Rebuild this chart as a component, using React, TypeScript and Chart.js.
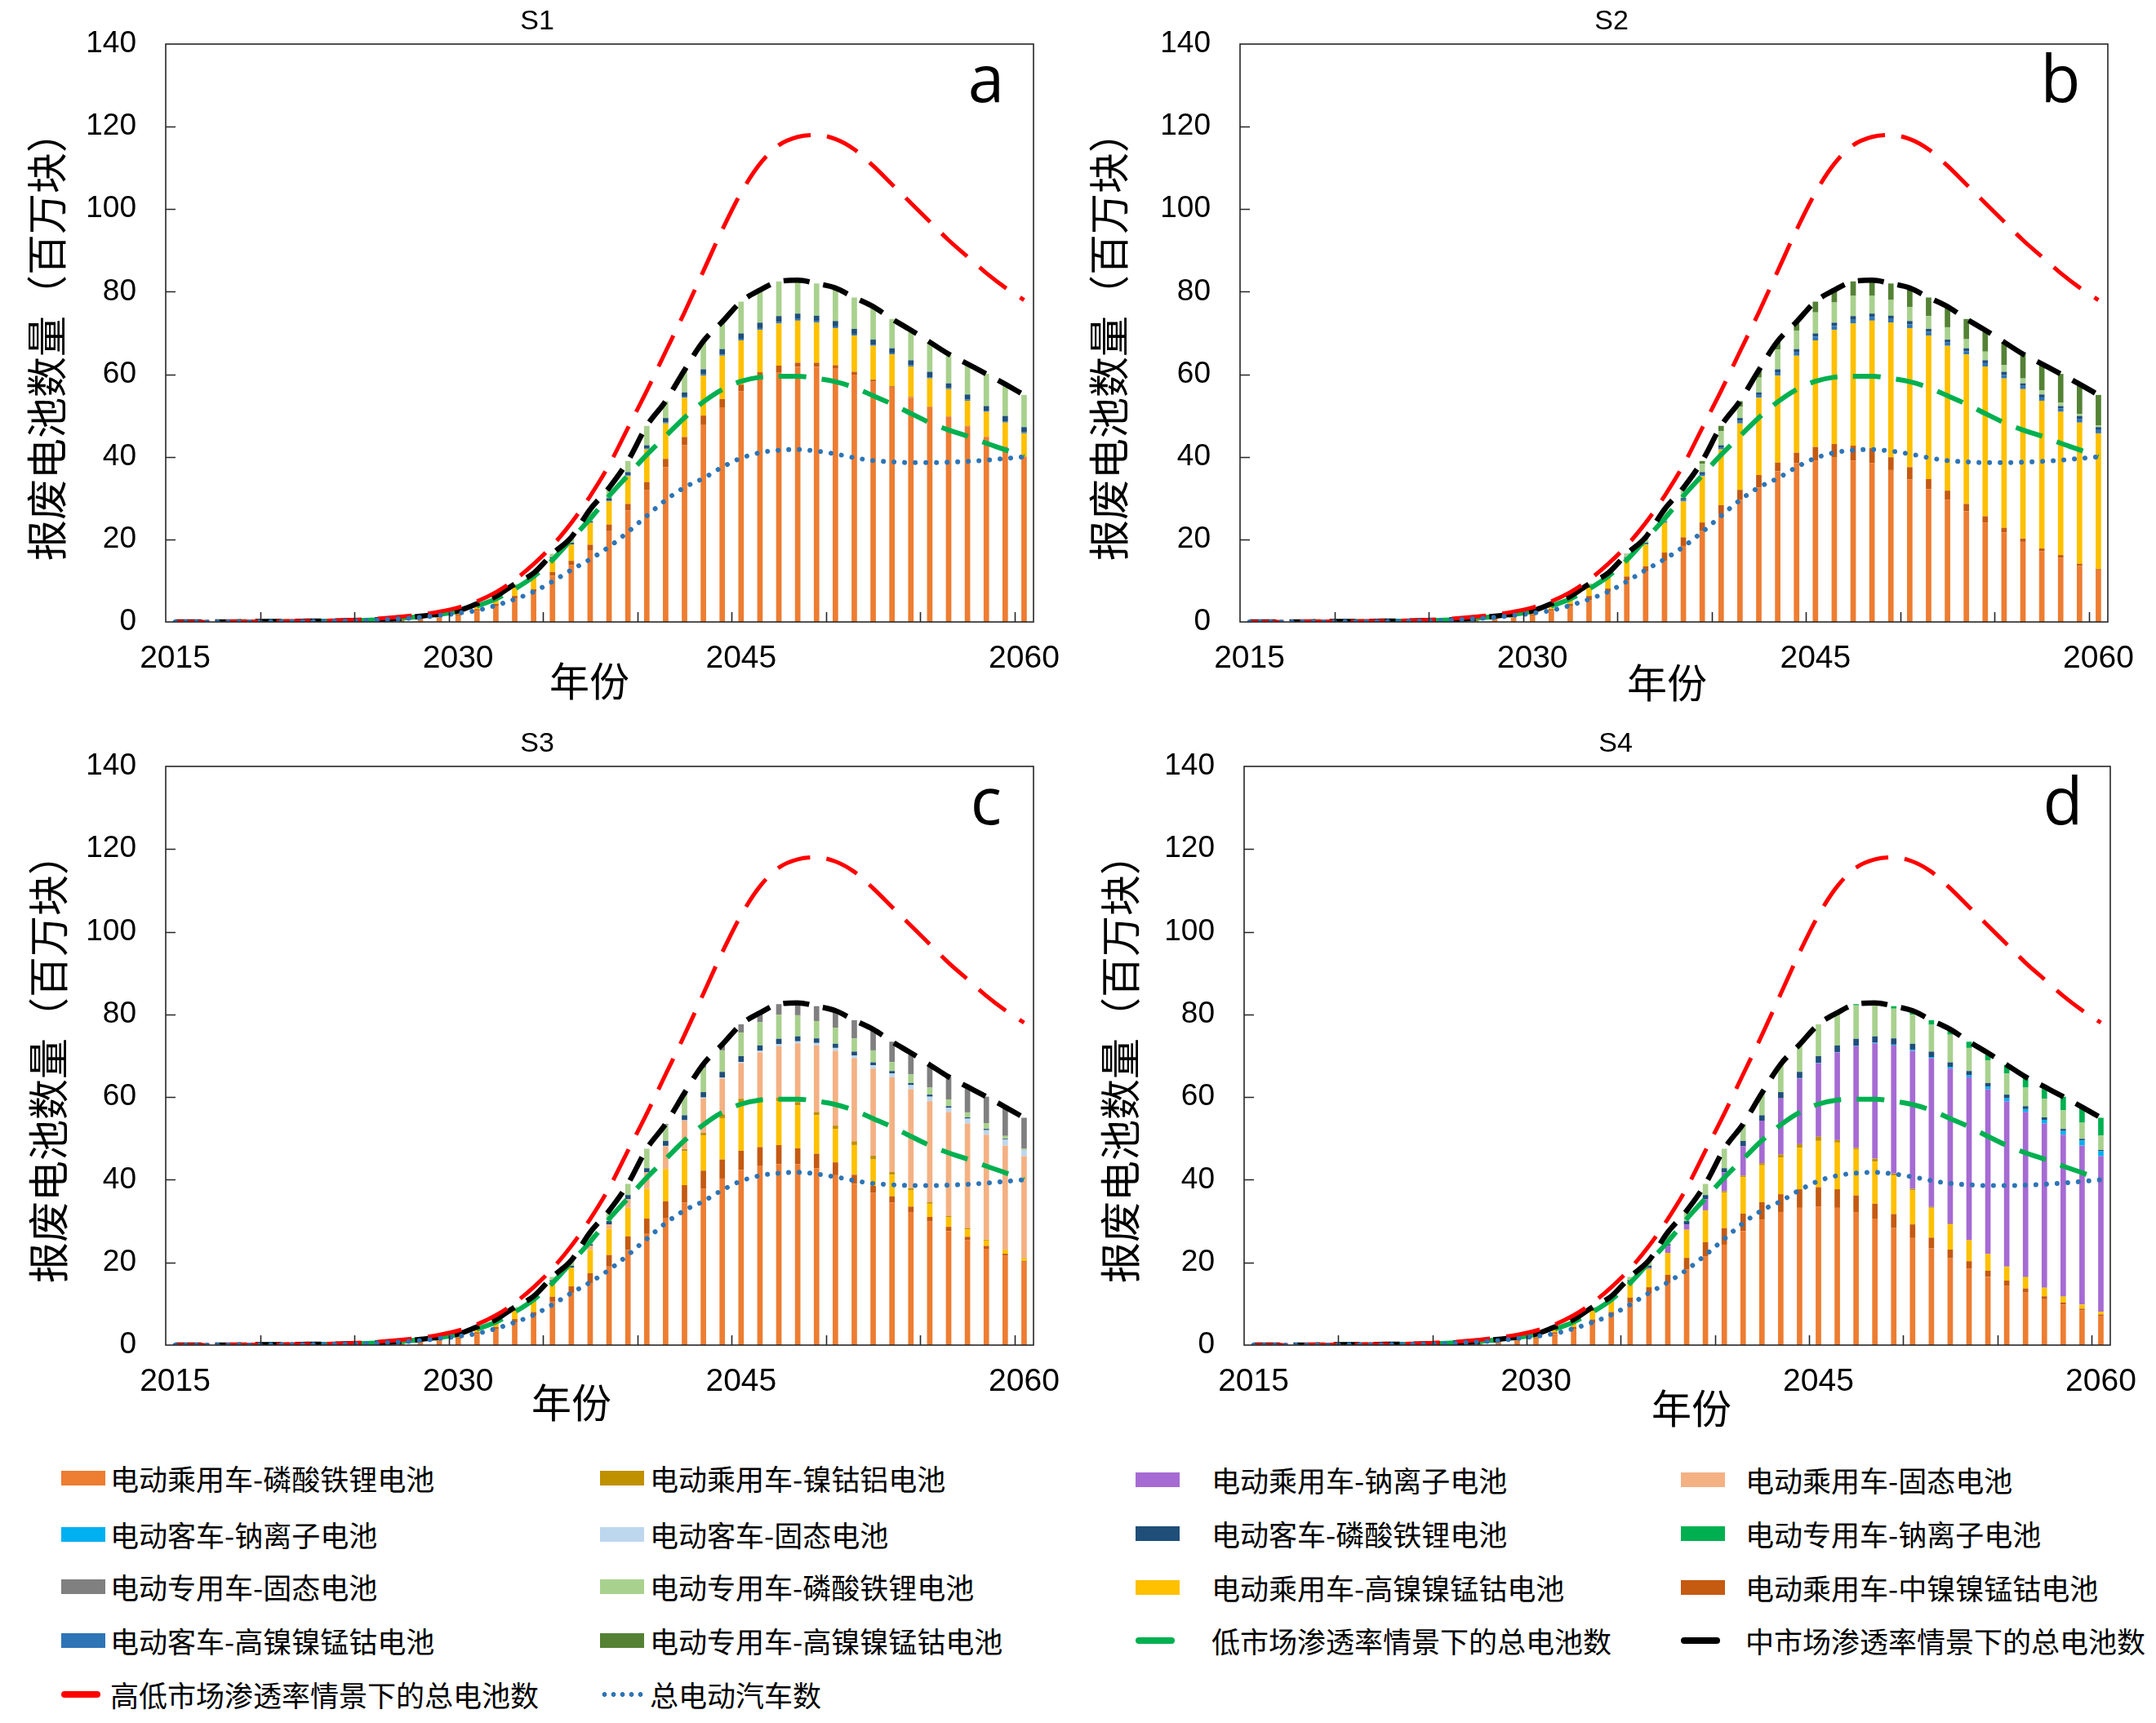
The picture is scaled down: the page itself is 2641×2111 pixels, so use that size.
import { useEffect, useRef } from "react"
import { Chart, registerables } from "chart.js"

// Register Chart.js components
Chart.register(...registerables)

const years = [
  2015, 2016, 2017, 2018, 2019, 2020, 2021, 2022, 2023, 2024, 2025, 2026, 2027, 2028, 2029, 2030,
  2031, 2032, 2033, 2034, 2035, 2036, 2037, 2038, 2039, 2040, 2041, 2042, 2043, 2044, 2045, 2046,
  2047, 2048, 2049, 2050, 2051, 2052, 2053, 2054, 2055, 2056, 2057, 2058, 2059, 2060,
]
const labelledYears = [2015, 2030, 2045, 2060]
const yMax = 140
const yStep = 20

// scenario totals (same in all four panels), 2015..2032 then 2033..2060
const highTotal = [
  0, 0, 0, 0.1, 0.1, 0.1, 0.2, 0.2, 0.3, 0.4, 0.6, 0.9, 1.3, 1.8, 2.5, 3.5, 5.0, 7.2,
  10.2, 14.0, 18.5, 24.0, 30.5, 38.0, 47.0, 56.0, 65.5, 75.0, 85.0, 95.0, 104.0, 111.0, 115.5, 117.5, 118.0, 117.0, 114.5, 110.5, 106.0, 101.5, 97.0, 92.5, 88.5, 84.5, 81.0, 78.0,
]
const midTotal = [
  0, 0, 0, 0, 0.1, 0.1, 0.1, 0.2, 0.2, 0.3, 0.4, 0.6, 0.9, 1.4, 1.9, 2.7, 4.4, 6.2,
  9.2, 11.8, 16.5, 20.5, 27.3, 32.5, 39.0, 47.5, 53.5, 61.0, 68.0, 72.7, 77.6, 80.4, 82.5, 82.8, 82.0, 80.9, 78.6, 76.4, 73.4, 70.7, 67.8, 64.9, 62.5, 60.1, 57.6, 55.0,
]
const lowTotal = [
  0, 0, 0, 0, 0.1, 0.1, 0.1, 0.2, 0.2, 0.3, 0.4, 0.6, 0.9, 1.3, 1.8, 2.6, 3.9, 5.6,
  8.0, 11.0, 15.0, 20.0, 25.0, 30.5, 35.5, 40.5, 45.0, 49.5, 53.3, 56.3, 58.3, 59.3, 59.5, 59.5, 59.0, 58.2, 56.8, 54.8, 52.8, 50.5, 48.3, 46.5, 45.0, 43.3, 41.7, 40.0,
]
const evTotal = [
  0, 0, 0, 0, 0, 0.1, 0.1, 0.1, 0.2, 0.2, 0.3, 0.5, 0.8, 1.1, 1.6, 2.1, 2.8, 4.0,
  5.5, 7.3, 9.8, 12.6, 15.2, 18.2, 21.8, 25.7, 29.5, 32.6, 34.8, 37.5, 39.7, 41.0, 41.6, 41.8, 41.4, 40.7, 39.8, 39.1, 38.8, 38.6, 38.6, 38.7, 38.9, 39.2, 39.6, 40.0,
]

// S1
const s1CarLfp = [
  0, 0, 0, 0, 0.1, 0.1, 0.1, 0.1, 0.1, 0.2, 0.2, 0.3, 0.5, 0.8, 1.1, 1.6, 2.7, 3.8,
  5.6, 7.2, 11.2, 13.8, 17.4, 22.0, 27.0, 31.9, 37.5, 42.8, 47.7, 52.0, 55.9, 58.9, 60.5, 61.8, 61.8, 61.5, 59.9, 58.2, 56.8, 54.3, 52.0, 49.7, 47.4, 44.7, 42.4, 40.1,
]
const s1CarMidNi = [
  0, 0, 0, 0, 0, 0, 0, 0, 0, 0, 0, 0.1, 0.1, 0.1, 0.2, 0.3, 0.4, 0.6,
  0.7, 0.7, 0.9, 1.0, 1.3, 1.6, 1.6, 2.0, 2.0, 2.0, 2.3, 2.0, 1.6, 1.6, 1.6, 1.0, 1.0, 0.7, 0.7, 0.5, 0.3, 0.2, 0.1, 0.1, 0.1, 0.1, 0.1, 0,
]
const s1CarHighNi = [
  0, 0, 0, 0, 0, 0, 0, 0.1, 0.1, 0.1, 0.2, 0.2, 0.3, 0.4, 0.5, 0.6, 1.0, 1.4,
  2.0, 2.8, 3.2, 3.9, 5.3, 5.6, 6.7, 7.9, 8.6, 9.5, 9.7, 10.5, 10.7, 10.3, 10.2, 10.2, 9.7, 9.0, 8.8, 8.2, 7.7, 7.4, 6.9, 6.6, 6.1, 6.1, 5.8, 5.6,
]
const s1BusHighNi = [
  0, 0, 0, 0, 0, 0, 0, 0, 0, 0, 0, 0, 0, 0, 0, 0, 0, 0,
  0, 0.1, 0.1, 0.1, 0.1, 0.2, 0.2, 0.2, 0.3, 0.3, 0.3, 0.3, 0.4, 0.4, 0.4, 0.4, 0.4, 0.4, 0.4, 0.3, 0.3, 0.3, 0.3, 0.3, 0.3, 0.3, 0.3, 0.3,
]
const s1BusLfp = [
  0, 0, 0, 0, 0, 0, 0, 0, 0, 0, 0, 0, 0, 0, 0, 0, 0.1, 0.1,
  0.2, 0.3, 0.3, 0.4, 0.3, 0.6, 0.8, 0.8, 1.0, 1.0, 1.2, 1.3, 1.3, 1.3, 1.4, 1.3, 1.3, 1.3, 1.2, 1.2, 1.2, 1.2, 1.3, 1.1, 1.2, 1.1, 1.3, 1.2,
]
const s1SpecLfp = [
  0, 0, 0, 0, 0, 0, 0, 0, 0, 0, 0, 0, 0, 0.1, 0.1, 0.2, 0.2, 0.3,
  0.7, 0.7, 0.8, 1.3, 2.9, 2.5, 2.7, 4.7, 4.1, 5.4, 6.8, 6.6, 7.7, 7.9, 8.4, 8.1, 7.8, 8.0, 7.6, 8.0, 7.1, 7.3, 7.2, 7.1, 7.4, 7.8, 7.7, 7.8,
]

// S2
const s2CarLfp = [
  0, 0, 0, 0, 0.1, 0.1, 0.1, 0.1, 0.1, 0.2, 0.2, 0.3, 0.5, 0.8, 1.1, 1.6, 2.7, 3.8,
  5.3, 7.2, 10.0, 12.2, 14.8, 18.4, 22.0, 26.0, 29.6, 32.6, 36.5, 38.5, 39.1, 39.8, 39.1, 38.5, 36.8, 34.5, 32.2, 29.6, 26.8, 24.1, 21.7, 19.4, 17.1, 15.5, 13.6, 12.5,
]
const s2CarMidNi = [
  0, 0, 0, 0, 0, 0, 0, 0, 0, 0, 0, 0.1, 0.1, 0.1, 0.2, 0.3, 0.4, 0.6,
  1.0, 0.9, 1.0, 1.3, 2.0, 2.1, 2.1, 2.3, 2.4, 3.0, 2.1, 2.5, 3.3, 3.3, 3.6, 3.6, 3.1, 3.0, 2.4, 2.2, 1.8, 1.5, 1.1, 0.8, 0.7, 0.7, 0.5, 0.3,
]
const s2CarHighNi = [
  0, 0, 0, 0, 0, 0, 0, 0.1, 0.1, 0.1, 0.2, 0.2, 0.3, 0.4, 0.5, 0.6, 1.0, 1.4,
  2.0, 2.6, 4.3, 5.2, 7.2, 8.7, 11.2, 13.5, 16.1, 18.7, 21.1, 23.5, 25.8, 27.7, 29.6, 30.9, 32.6, 33.7, 34.8, 35.1, 36.2, 36.3, 36.2, 36.2, 35.8, 34.7, 34.2, 32.9,
]
const s2BusHighNi = [
  0, 0, 0, 0, 0, 0, 0, 0, 0, 0, 0, 0, 0, 0, 0, 0, 0, 0,
  0, 0.2, 0.2, 0.2, 0.2, 0.4, 0.5, 0.5, 0.7, 0.7, 0.8, 0.8, 0.9, 0.9, 0.9, 0.9, 0.9, 0.9, 0.9, 0.8, 0.8, 0.8, 0.8, 0.8, 0.8, 0.8, 0.8, 0.8,
]
const s2BusLfp = [
  0, 0, 0, 0, 0, 0, 0, 0, 0, 0, 0, 0, 0, 0, 0, 0, 0.1, 0.1,
  0.2, 0.2, 0.2, 0.3, 0.2, 0.4, 0.5, 0.5, 0.6, 0.6, 0.7, 0.8, 0.8, 0.8, 0.9, 0.8, 0.8, 0.8, 0.7, 0.7, 0.7, 0.7, 0.8, 0.6, 0.7, 0.6, 0.8, 0.7,
]
const s2SpecLfp = [
  0, 0, 0, 0, 0, 0, 0, 0, 0, 0, 0, 0, 0, 0.1, 0.1, 0.2, 0.2, 0.3,
  0.6, 0.6, 0.7, 1.1, 2.5, 2.0, 2.0, 3.4, 2.8, 3.6, 4.8, 4.5, 5.1, 4.9, 4.9, 4.3, 3.8, 3.4, 3.1, 3.0, 2.2, 2.1, 1.6, 1.2, 1.0, 0.8, 0.5, 0.4,
]
const s2SpecHighNi = [
  0, 0, 0, 0, 0, 0, 0, 0, 0, 0, 0, 0, 0, 0, 0, 0, 0, 0,
  0.1, 0.1, 0.1, 0.2, 0.4, 0.5, 0.7, 1.3, 1.3, 1.8, 2.0, 2.1, 2.6, 3.0, 3.5, 3.8, 4.0, 4.6, 4.5, 5.0, 4.9, 5.2, 5.6, 5.9, 6.4, 7.0, 7.2, 7.4,
]

// S3
const s3CarLfp = [
  0, 0, 0, 0, 0.1, 0.1, 0.1, 0.1, 0.1, 0.2, 0.2, 0.3, 0.5, 0.8, 1.1, 1.6, 2.7, 3.8,
  5.4, 7.0, 10.5, 12.5, 15.0, 19.0, 23.0, 26.9, 30.8, 34.5, 37.8, 40.3, 42.4, 43.3, 43.8, 43.8, 42.8, 41.1, 39.0, 36.8, 34.5, 32.2, 29.9, 27.6, 25.4, 23.3, 21.6, 20.0,
]
const s3CarMidNi = [
  0, 0, 0, 0, 0, 0, 0, 0, 0, 0, 0, 0.1, 0.1, 0.1, 0.2, 0.3, 0.4, 0.6,
  0.9, 1.0, 1.2, 1.7, 2.4, 2.8, 3.3, 3.7, 4.0, 4.2, 4.4, 4.6, 4.6, 4.6, 4.6, 3.8, 3.5, 3.1, 2.2, 1.7, 1.5, 1.3, 1.1, 1.0, 0.8, 0.7, 0.5, 0.3,
]
const s3CarHighNi = [
  0, 0, 0, 0, 0, 0, 0, 0.1, 0.1, 0.1, 0.2, 0.2, 0.3, 0.4, 0.5, 0.6, 1.0, 1.4,
  2.0, 2.7, 3.6, 4.5, 5.6, 6.3, 6.9, 7.2, 7.8, 8.2, 8.5, 10.0, 11.5, 11.0, 10.6, 10.4, 9.3, 8.1, 7.2, 6.4, 5.2, 4.0, 3.2, 2.3, 1.8, 1.3, 0.9, 0.6,
]
const s3CarNca = [
  0, 0, 0, 0, 0, 0, 0, 0, 0, 0, 0, 0, 0, 0, 0, 0, 0, 0,
  0, 0, 0, 0, 0, 0, 0, 0, 0, 0.5, 0.7, 0.9, 1.1, 1.0, 0.9, 0.8, 0.8, 0.8, 0.9, 0.9, 0.7, 0.5, 0.4, 0.3, 0.3, 0.2, 0.1, 0.1,
]
const s3CarSolid = [
  0, 0, 0, 0, 0, 0, 0, 0, 0, 0, 0, 0, 0, 0, 0, 0, 0, 0,
  0, 0, 0, 0, 1.0, 1.1, 2.1, 4.0, 5.5, 6.9, 8.3, 8.7, 8.6, 10.9, 12.4, 14.2, 16.1, 18.1, 20.1, 21.1, 22.9, 23.9, 24.4, 25.2, 25.3, 25.4, 25.2, 24.7,
]
const s3BusSolid = [
  0, 0, 0, 0, 0, 0, 0, 0, 0, 0, 0, 0, 0, 0, 0, 0, 0, 0,
  0, 0, 0, 0, 0, 0, 0, 0, 0.1, 0.1, 0.2, 0.2, 0.3, 0.4, 0.5, 0.5, 0.6, 0.7, 0.7, 0.8, 0.9, 1.0, 1.1, 1.0, 1.2, 1.1, 1.4, 1.5,
]
const s3BusLfp = [
  0, 0, 0, 0, 0, 0, 0, 0, 0, 0, 0, 0, 0, 0, 0, 0, 0.1, 0.1,
  0.2, 0.4, 0.4, 0.5, 0.4, 0.8, 1.0, 1.0, 1.2, 1.2, 1.3, 1.4, 1.4, 1.3, 1.3, 1.2, 1.1, 1.0, 0.9, 0.7, 0.6, 0.5, 0.5, 0.4, 0.3, 0.3, 0.2, 0,
]
const s3SpecLfp = [
  0, 0, 0, 0, 0, 0, 0, 0, 0, 0, 0, 0, 0, 0.1, 0.1, 0.2, 0.2, 0.3,
  0.7, 0.7, 0.8, 1.3, 2.9, 2.5, 2.7, 4.7, 3.8, 4.8, 5.8, 5.2, 5.7, 5.6, 5.8, 5.1, 4.2, 3.9, 3.2, 2.9, 2.2, 2.1, 1.7, 1.6, 1.2, 1.4, 0.7, 0.3,
]
const s3SpecSolid = [
  0, 0, 0, 0, 0, 0, 0, 0, 0, 0, 0, 0, 0, 0, 0, 0, 0, 0,
  0, 0, 0, 0, 0, 0, 0, 0, 0.3, 0.6, 1.0, 1.4, 2.0, 2.3, 2.6, 3.0, 3.6, 4.1, 4.4, 5.1, 4.9, 5.2, 5.5, 5.5, 6.2, 6.4, 7.0, 7.5,
]

// S4
const s4CarLfp = [
  0, 0, 0, 0, 0.1, 0.1, 0.1, 0.1, 0.1, 0.2, 0.2, 0.3, 0.5, 0.8, 1.1, 1.6, 2.7, 3.8,
  5.3, 7.0, 10.3, 12.4, 15.0, 18.3, 21.4, 24.3, 27.6, 30.3, 32.2, 33.2, 33.5, 33.2, 32.2, 30.6, 28.3, 25.9, 23.4, 21.0, 18.5, 16.5, 14.4, 12.7, 11.1, 9.8, 8.4, 7.1,
]
const s4CarMidNi = [
  0, 0, 0, 0, 0, 0, 0, 0, 0, 0, 0, 0.1, 0.1, 0.1, 0.2, 0.3, 0.4, 0.6,
  0.9, 1.0, 1.2, 1.6, 2.0, 2.8, 3.5, 4.0, 4.2, 4.3, 4.3, 4.5, 4.7, 4.5, 4.0, 3.6, 3.4, 3.3, 2.6, 2.1, 1.8, 1.5, 1.2, 1.0, 0.7, 0.5, 0.4, 0.3,
]
const s4CarHighNi = [
  0, 0, 0, 0, 0, 0, 0, 0.1, 0.1, 0.1, 0.2, 0.2, 0.3, 0.4, 0.5, 0.6, 1.0, 1.4,
  2.1, 2.7, 3.8, 4.4, 5.3, 6.8, 7.7, 8.6, 8.8, 8.9, 8.9, 10.0, 11.2, 11.3, 11.2, 10.2, 9.3, 8.3, 7.2, 6.1, 5.0, 4.0, 3.3, 2.7, 2.0, 1.4, 1.0, 0.7,
]
const s4CarNca = [
  0, 0, 0, 0, 0, 0, 0, 0, 0, 0, 0, 0, 0, 0, 0, 0, 0, 0,
  0, 0, 0, 0, 0, 0, 0, 0.3, 0.4, 0.5, 0.7, 0.9, 1.0, 0.6, 0.3, 0.7, 0.5, 0.3, 0.2, 0.2, 0.1, 0.1, 0.1, 0.1, 0.1, 0.1, 0, 0,
]
const s4CarSodium = [
  0, 0, 0, 0, 0, 0, 0, 0, 0, 0, 0, 0, 0, 0, 0, 0, 0, 0,
  0, 0, 0, 0.3, 1.7, 1.3, 2.7, 4.6, 7.1, 10.3, 13.6, 15.9, 17.8, 21.2, 24.6, 27.9, 31.0, 33.4, 36.0, 37.5, 39.4, 39.8, 40.0, 39.9, 39.7, 39.1, 38.5, 37.6,
]
const s4BusSodium = [
  0, 0, 0, 0, 0, 0, 0, 0, 0, 0, 0, 0, 0, 0, 0, 0, 0, 0,
  0, 0, 0, 0, 0, 0, 0, 0, 0, 0, 0, 0.1, 0.1, 0.1, 0.1, 0.2, 0.2, 0.3, 0.3, 0.4, 0.5, 0.6, 0.7, 0.7, 0.9, 0.9, 1.2, 1.2,
]
const s4BusLfp = [
  0, 0, 0, 0, 0, 0, 0, 0, 0, 0, 0, 0, 0, 0, 0, 0, 0.1, 0.1,
  0.2, 0.4, 0.4, 0.5, 0.4, 0.8, 1.0, 1.0, 1.3, 1.3, 1.5, 1.5, 1.6, 1.6, 1.7, 1.5, 1.5, 1.4, 1.3, 1.1, 1.0, 0.9, 0.9, 0.7, 0.6, 0.5, 0.4, 0.3,
]
const s4SpecLfp = [
  0, 0, 0, 0, 0, 0, 0, 0, 0, 0, 0, 0, 0, 0.1, 0.1, 0.2, 0.2, 0.3,
  0.7, 0.7, 0.8, 1.3, 2.9, 2.5, 2.7, 4.7, 4.1, 5.4, 6.8, 6.6, 7.7, 7.8, 8.1, 7.7, 7.2, 7.0, 6.5, 6.7, 5.6, 5.5, 5.1, 4.5, 4.5, 4.5, 3.9, 3.5,
]
const s4SpecSodium = [
  0, 0, 0, 0, 0, 0, 0, 0, 0, 0, 0, 0, 0, 0, 0, 0, 0, 0,
  0, 0, 0, 0, 0, 0, 0, 0, 0, 0, 0, 0, 0, 0.1, 0.3, 0.4, 0.6, 1.0, 1.1, 1.3, 1.5, 1.8, 2.1, 2.6, 2.9, 3.3, 3.8, 4.3,
]

const seriesInfo: Record<string, { label: string; color: string }> = {
  carLfp: { label: "电动乘用车-磷酸铁锂电池", color: "#ED7D31" },
  carNca: { label: "电动乘用车-镍钴铝电池", color: "#BF9000" },
  carSodium: { label: "电动乘用车-钠离子电池", color: "#A66BD3" },
  carSolid: { label: "电动乘用车-固态电池", color: "#F4B183" },
  busSodium: { label: "电动客车-钠离子电池", color: "#00B0F0" },
  busSolid: { label: "电动客车-固态电池", color: "#BDD7EE" },
  busLfp: { label: "电动客车-磷酸铁锂电池", color: "#1F4E79" },
  specSodium: { label: "电动专用车-钠离子电池", color: "#00B050" },
  specSolid: { label: "电动专用车-固态电池", color: "#808080" },
  specLfp: { label: "电动专用车-磷酸铁锂电池", color: "#A9D18E" },
  carHighNi: { label: "电动乘用车-高镍镍锰钴电池", color: "#FFC000" },
  carMidNi: { label: "电动乘用车-中镍镍锰钴电池", color: "#C55A11" },
  busHighNi: { label: "电动客车-高镍镍锰钴电池", color: "#2E75B6" },
  specHighNi: { label: "电动专用车-高镍镍锰钴电池", color: "#548235" },
}

const lineInfo: Record<string, { label: string; color: string; width: number; dash: number[] }> = {
  low: { label: "低市场渗透率情景下的总电池数", color: "#00B050", width: 6, dash: [34, 19] },
  mid: { label: "中市场渗透率情景下的总电池数", color: "#000000", width: 6.5, dash: [32, 17] },
  high: { label: "高低市场渗透率情景下的总电池数", color: "#FF0000", width: 5, dash: [42, 20] },
  ev: { label: "总电动汽车数", color: "#2E75B6", width: 6, dash: [0.01, 13] },
}

type Panel = {
  title: string
  letter: string
  left: number
  top: number
  width: number
  height: number
  plotLeft: number
  plotRight: number
  plotTop: number
  plotBottom: number
  yTitleX: number
  xTitleX: number
  xTitleY: number
  bars: [string, number[]][]
}

const panels: Panel[] = [
  {
    title: "S1", letter: "a", left: 0, top: 0, width: 1300, height: 880,
    plotLeft: 203, plotRight: 1266, plotTop: 54, plotBottom: 762,
    yTitleX: 57, xTitleX: 722, xTitleY: 834,
    bars: [
      ["carLfp", s1CarLfp], ["carMidNi", s1CarMidNi], ["carHighNi", s1CarHighNi],
      ["busHighNi", s1BusHighNi], ["busLfp", s1BusLfp], ["specLfp", s1SpecLfp],
    ],
  },
  {
    title: "S2", letter: "b", left: 1310, top: 0, width: 1320, height: 880,
    plotLeft: 1519, plotRight: 2582, plotTop: 54, plotBottom: 762,
    yTitleX: 1358, xTitleX: 2042, xTitleY: 836,
    bars: [
      ["carLfp", s2CarLfp], ["carMidNi", s2CarMidNi], ["carHighNi", s2CarHighNi],
      ["busHighNi", s2BusHighNi], ["busLfp", s2BusLfp], ["specLfp", s2SpecLfp], ["specHighNi", s2SpecHighNi],
    ],
  },
  {
    title: "S3", letter: "c", left: 0, top: 885, width: 1300, height: 880,
    plotLeft: 203, plotRight: 1266, plotTop: 939, plotBottom: 1648,
    yTitleX: 59, xTitleX: 700, xTitleY: 1718,
    bars: [
      ["carLfp", s3CarLfp], ["carMidNi", s3CarMidNi], ["carHighNi", s3CarHighNi], ["carNca", s3CarNca],
      ["carSolid", s3CarSolid], ["busSolid", s3BusSolid], ["busLfp", s3BusLfp],
      ["specLfp", s3SpecLfp], ["specSolid", s3SpecSolid],
    ],
  },
  {
    title: "S4", letter: "d", left: 1310, top: 885, width: 1320, height: 880,
    plotLeft: 1524, plotRight: 2585, plotTop: 939, plotBottom: 1648,
    yTitleX: 1372, xTitleX: 2072, xTitleY: 1725,
    bars: [
      ["carLfp", s4CarLfp], ["carMidNi", s4CarMidNi], ["carHighNi", s4CarHighNi], ["carNca", s4CarNca],
      ["carSodium", s4CarSodium], ["busSodium", s4BusSodium], ["busLfp", s4BusLfp],
      ["specLfp", s4SpecLfp], ["specSodium", s4SpecSodium],
    ],
  },
]

const yTitle = "报废电池数量（百万块）"
const latinFont = '"Liberation Sans", Arial, sans-serif'
const cjkFont = '"Noto Sans CJK SC", sans-serif'

function PanelChart({ panel }: { panel: Panel }) {
  const chartRef = useRef<HTMLCanvasElement>(null)
  const chartInstance = useRef<Chart | null>(null)

  useEffect(() => {
    if (!chartRef.current) return

    if (chartInstance.current) {
      chartInstance.current.destroy()
    }

    const ctx = chartRef.current.getContext("2d")
    if (!ctx) return

    const lineSet = (key: string, data: number[]) => {
      const info = lineInfo[key]
      return {
        type: "line" as const,
        label: info.label,
        data,
        yAxisID: "y2",
        borderColor: info.color,
        backgroundColor: info.color,
        borderWidth: info.width,
        borderDash: info.dash,
        borderCapStyle: key === "ev" ? ("round" as const) : ("butt" as const),
        pointRadius: 0,
        fill: false,
        cubicInterpolationMode: "monotone" as const,
      }
    }

    // first dataset is drawn on top
    const datasets: any[] = [
      lineSet("ev", evTotal),
      lineSet("high", highTotal),
      lineSet("mid", midTotal),
      lineSet("low", lowTotal),
      ...panel.bars.map(([key, data]) => ({
        type: "bar" as const,
        label: seriesInfo[key].label,
        data,
        yAxisID: "y",
        backgroundColor: seriesInfo[key].color,
        borderWidth: 0,
        barPercentage: 0.29,
        categoryPercentage: 1,
      })),
    ]

    // frame, inner tick marks and the panel texts
    const decor = {
      id: "decor",
      afterDatasetsDraw(chart: Chart) {
        const c = chart.ctx
        const a = chart.chartArea
        const yScale = chart.scales.y
        c.save()
        c.strokeStyle = "#262626"
        c.lineWidth = 1.6
        c.strokeRect(a.left, a.top, a.right - a.left, a.bottom - a.top)
        c.beginPath()
        const step = (a.right - a.left) / years.length
        for (let i = 5; i < years.length; i += 5) {
          const x = Math.round(a.left + step * i) + 0.5
          c.moveTo(x, a.bottom)
          c.lineTo(x, a.bottom - 12)
        }
        for (let v = yStep; v < yMax; v += yStep) {
          const y = Math.round(yScale.getPixelForValue(v)) + 0.5
          c.moveTo(a.left, y)
          c.lineTo(a.left + 12, y)
        }
        c.stroke()

        c.fillStyle = "#000"
        c.textAlign = "center"
        c.textBaseline = "middle"
        c.font = `34px ${latinFont}`
        c.fillText(panel.title, a.left + 455, a.top - 27)

        c.font = `80px "Open Sans", sans-serif`
        c.textBaseline = "alphabetic"
        c.fillText(panel.letter, a.right - 58, a.top + 71)

        c.font = `49px ${cjkFont}`
        c.textBaseline = "middle"
        c.fillText("年份", panel.xTitleX - panel.left, panel.xTitleY - panel.top)

        c.font = `50px ${cjkFont}`
        c.translate(panel.yTitleX - panel.left, a.top + 358)
        c.rotate(-Math.PI / 2)
        c.fillText(yTitle, 0, 0)
        c.restore()
      },
    }

    chartInstance.current = new Chart(ctx, {
      type: "bar",
      data: {
        labels: years.map(String),
        datasets,
      },
      options: {
        animation: false,
        responsive: false,
        devicePixelRatio: 1,
        layout: {
          padding: {
            left: 0,
            top: panel.plotTop - panel.top,
            right: panel.left + panel.width - panel.plotRight,
            bottom: 0,
          },
        },
        plugins: {
          legend: { display: false },
          tooltip: { enabled: false },
        },
        scales: {
          x: {
            stacked: true,
            offset: true,
            grid: { display: false, drawTicks: false },
            border: { display: false },
            ticks: {
              autoSkip: false,
              maxRotation: 0,
              minRotation: 0,
              padding: 22,
              color: "#000",
              font: { family: latinFont, size: 39 },
              callback: (_value: any, index: number) =>
                labelledYears.includes(years[index]) ? String(years[index]) : "",
            },
            afterFit: (scale: any) => {
              scale.height = panel.top + panel.height - panel.plotBottom
              scale.paddingLeft = 0
              scale.paddingRight = 0
            },
          },
          y: {
            stacked: true,
            min: 0,
            max: yMax,
            grid: { display: false, drawTicks: false },
            border: { display: false },
            ticks: {
              stepSize: yStep,
              padding: 36,
              color: "#000",
              font: { family: latinFont, size: 37 },
            },
            afterFit: (scale: any) => {
              scale.width = panel.plotLeft - panel.left
              scale.paddingTop = 0
              scale.paddingBottom = 0
            },
          },
          y2: {
            display: false,
            min: 0,
            max: yMax,
          },
        },
      },
      plugins: [decor],
    })

    return () => {
      if (chartInstance.current) {
        chartInstance.current.destroy()
        chartInstance.current = null
      }
    }
  }, [panel])

  return (
    <canvas
      ref={chartRef}
      width={panel.width}
      height={panel.height}
      style={{ position: "absolute", left: panel.left, top: panel.top, width: panel.width, height: panel.height }}
    />
  )
}

// legend layout: four columns below the panels
const legendColumns = [
  { swatchX: 75, textX: 135, rows: [1811, 1880, 1944, 2010, 2076], keys: ["carLfp", "busSodium", "specSolid", "busHighNi", "high"] },
  { swatchX: 735, textX: 796, rows: [1811, 1880, 1944, 2010, 2076], keys: ["carNca", "busSolid", "specLfp", "specHighNi", "ev"] },
  { swatchX: 1391, textX: 1484, rows: [1813, 1879, 1945, 2010], keys: ["carSodium", "busLfp", "carHighNi", "low"] },
  { swatchX: 2059, textX: 2138, rows: [1813, 1879, 1945, 2010], keys: ["carSolid", "specSodium", "carMidNi", "mid"] },
]

function Swatch({ k, x, y }: { k: string; x: number; y: number }) {
  if (seriesInfo[k]) {
    return <div style={{ position: "absolute", left: x, top: y - 9, width: 54, height: 18, background: seriesInfo[k].color }} />
  }
  if (k === "ev") {
    return (
      <div
        style={{
          position: "absolute", left: x, top: y - 4, width: 56, height: 8,
          backgroundImage: `radial-gradient(circle, ${lineInfo.ev.color} 2.6px, transparent 3.2px)`,
          backgroundSize: "11px 8px",
        }}
      />
    )
  }
  return (
    <div style={{ position: "absolute", left: x, top: y - 4, width: 48, height: 8, borderRadius: 4, background: lineInfo[k].color }} />
  )
}

function Legend() {
  return (
    <>
      {legendColumns.map((col) =>
        col.keys.map((k, i) => {
          const y = col.rows[i]
          const label = seriesInfo[k] ? seriesInfo[k].label : lineInfo[k].label
          return (
            <div key={k}>
              <Swatch k={k} x={col.swatchX} y={y} />
              <div
                style={{
                  position: "absolute", left: col.textX, top: y - 25, height: 50, lineHeight: "50px",
                  fontFamily: cjkFont, fontSize: 35, color: "#000", whiteSpace: "nowrap",
                }}
              >
                {label}
              </div>
            </div>
          )
        })
      )}
    </>
  )
}

export default function App() {
  return (
    <div style={{ position: "absolute", left: 0, top: 0, width: 2641, height: 2111, background: "#fff", overflow: "hidden" }}>
      {panels.map((p) => (
        <PanelChart key={p.title} panel={p} />
      ))}
      <Legend />
    </div>
  )
}
